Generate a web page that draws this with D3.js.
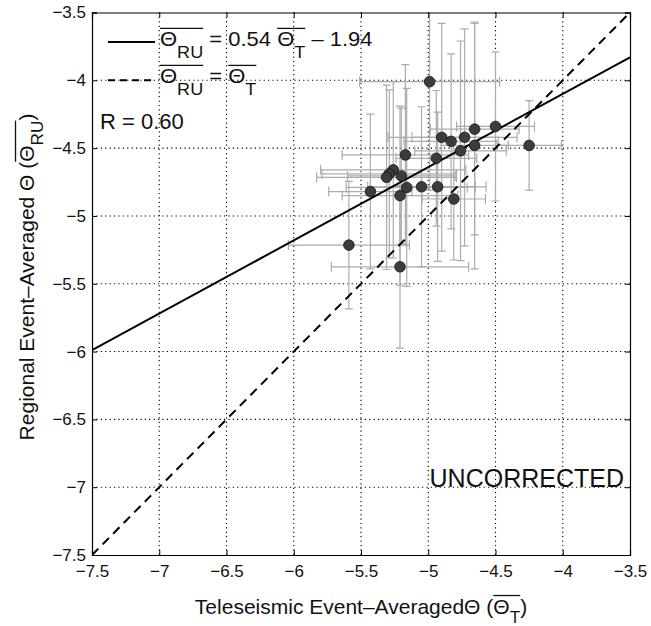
<!DOCTYPE html>
<html>
<head>
<meta charset="utf-8">
<script src="https://cdn.jsdelivr.net/npm/d3@7/dist/d3.min.js"></script>
<style>
  html, body { margin: 0; padding: 0; background: #fff; }
  svg text { font-family: "Liberation Sans", Arial, Helvetica, sans-serif; fill: #111; white-space: pre; }
</style>
</head>
<body>
<svg id="chart" width="651" height="626"></svg>
<script>
// Event-averaged Theta: teleseismic (x) vs regional (y), with 1-sigma error bars
const teleTheta = [-4.99, -4.90, -4.83, -4.73, -4.655, -4.50, -4.25, -4.655, -4.76, -4.94, -5.17, -5.26,
                   -5.29, -5.31, -5.20, -5.43, -5.16, -5.05, -4.93, -5.21, -4.81, -5.59, -5.21];
const regTheta  = [-4.01, -4.42, -4.45, -4.42, -4.36, -4.34, -4.48, -4.48, -4.52, -4.575, -4.55, -4.66,
                   -4.69, -4.715, -4.705, -4.82, -4.79, -4.785, -4.785, -4.85, -4.875, -5.215, -5.375];
const teleErr   = [0.52, 0.40, 0.35, 0.39, 0.33, 0.29, 0.24, 0.25, 0.34, 0.30, 0.47, 0.54,
                   0.50, 0.52, 0.40, 0.31, 0.45, 0.40, 0.36, 0.43, 0.235, 0.45, 0.51];
const regErr    = [0.80, 0.84, 0.645, 0.80, 0.78, 0.55, 0.33, 0.91, 0.81, 0.50, 0.665, 0.65,
                   0.62, 0.68, 0.50, 0.57, 0.73, 0.59, 0.55, 0.66, 0.45, 0.47, 0.60];

// least-squares fit reported in the legend
const fitSlope = 0.54;
const fitIntercept = -1.94;
const corrR = "0.60";

const axisDomain = [-7.5, -3.5];
const tickValues = [-7.5, -7, -6.5, -6, -5.5, -5, -4.5, -4, -3.5];
const tickLabels = ["\u22127.5", "\u22127", "\u22126.5", "\u22126", "\u22125.5", "\u22125", "\u22124.5", "\u22124", "\u22123.5"];

const svg = d3.select("#chart");
const plot = { left: 92, right: 630, top: 12.5, bottom: 555 };

const x = d3.scaleLinear().domain(axisDomain).range([plot.left, plot.right]);
const y = d3.scaleLinear().domain(axisDomain).range([plot.bottom, plot.top]);

svg.append("defs").append("clipPath").attr("id", "plotClip")
  .append("rect").attr("x", plot.left).attr("y", plot.top)
  .attr("width", plot.right - plot.left).attr("height", plot.bottom - plot.top);

// dotted grid
const grid = svg.append("g").attr("stroke", "#000").attr("stroke-width", 1.1)
  .attr("stroke-dasharray", "1.2,3.2");
tickValues.slice(1, -1).forEach(v => {
  grid.append("line").attr("x1", x(v)).attr("x2", x(v)).attr("y1", plot.top).attr("y2", plot.bottom);
  grid.append("line").attr("y1", y(v)).attr("y2", y(v)).attr("x1", plot.left).attr("x2", plot.right);
});

// error bars
const points = teleTheta.map((t, i) => ({ t, r: regTheta[i], et: teleErr[i], er: regErr[i] }));
const eb = svg.append("g").attr("clip-path", "url(#plotClip)")
  .attr("stroke", "#acacac").attr("stroke-width", 1.2).attr("fill", "none");
const capH = 4, capV = 5;
points.forEach(p => {
  const cx = x(p.t), cy = y(p.r);
  const y0 = y(p.r - p.er), y1 = y(p.r + p.er);
  const x0 = x(p.t - p.et), x1 = x(p.t + p.et);
  eb.append("path").attr("d",
    `M${cx},${y0}V${y1}M${cx - capH},${y0}H${cx + capH}M${cx - capH},${y1}H${cx + capH}` +
    `M${x0},${cy}H${x1}M${x0},${cy - capV}V${cy + capV}M${x1},${cy - capV}V${cy + capV}`);
});

// fit line and 1:1 line
const lines = svg.append("g").attr("clip-path", "url(#plotClip)").attr("fill", "none");
lines.append("line")
  .attr("x1", x(axisDomain[0])).attr("y1", y(fitSlope * axisDomain[0] + fitIntercept))
  .attr("x2", x(axisDomain[1])).attr("y2", y(fitSlope * axisDomain[1] + fitIntercept))
  .attr("stroke", "#000").attr("stroke-width", 2);
lines.append("line")
  .attr("x1", x(axisDomain[0])).attr("y1", y(axisDomain[0]))
  .attr("x2", x(axisDomain[1])).attr("y2", y(axisDomain[1]))
  .attr("stroke", "#000").attr("stroke-width", 2).attr("stroke-dasharray", "9,6");

// event markers
svg.append("g").selectAll("circle").data(points).join("circle")
  .attr("cx", d => x(d.t)).attr("cy", d => y(d.r)).attr("r", 5.3)
  .attr("fill", "#3c3c3c").attr("stroke", "#111").attr("stroke-width", 0.8);

// axes box with inward ticks on all four sides
const fmt = v => tickLabels[tickValues.indexOf(v)];
const axes = [
  { ax: d3.axisBottom(x), tr: `translate(0,${plot.bottom})`, lab: true, pad: 10 },
  { ax: d3.axisTop(x), tr: `translate(0,${plot.top})`, lab: false, pad: 0 },
  { ax: d3.axisLeft(y), tr: `translate(${plot.left},0)`, lab: true, pad: 6 },
  { ax: d3.axisRight(y), tr: `translate(${plot.right},0)`, lab: false, pad: 0 }
];
axes.forEach(a => {
  const g = svg.append("g").attr("transform", a.tr)
    .call(a.ax.tickValues(tickValues).tickSize(-5).tickPadding(a.pad)
      .tickFormat(a.lab ? fmt : () => ""));
  g.select(".domain").attr("stroke", "#000").attr("stroke-width", 1.2);
  g.selectAll(".tick line").attr("stroke", "#000").attr("stroke-width", 1);
  g.selectAll(".tick text").attr("font-size", 17).attr("fill", "#111")
    .style("font-family", '"Liberation Sans", Arial, sans-serif');
});

// text with subscripts and overbars
function richText(g, x0, y0, parts, size, subShift) {
  let cx = x0;
  parts.forEach(p => {
    const start = cx;
    if (p.t) {
      const t = g.append("text").attr("x", cx).attr("y", y0).attr("font-size", size).text(p.t);
      cx += t.node().getComputedTextLength();
    }
    if (p.sub) {
      const s = g.append("text").attr("x", cx).attr("y", y0 + size * subShift)
        .attr("font-size", size * 0.82).text(p.sub);
      cx += s.node().getComputedTextLength();
    }
    if (p.over) {
      g.append("line").attr("x1", start).attr("x2", cx)
        .attr("y1", y0 - size * 0.88).attr("y2", y0 - size * 0.88)
        .attr("stroke", "#111").attr("stroke-width", 1.3);
    }
  });
  return cx - x0;
}

// legend
const leg = svg.append("g");
leg.append("line").attr("x1", 108).attr("x2", 155).attr("y1", 42).attr("y2", 42)
  .attr("stroke", "#000").attr("stroke-width", 2);
leg.append("line").attr("x1", 108).attr("x2", 155).attr("y1", y(-4)).attr("y2", y(-4))
  .attr("stroke", "#000").attr("stroke-width", 2).attr("stroke-dasharray", "7,5");
const legRow1 = leg.append("g").attr("transform", "translate(160,46) scale(1.1,1)");
richText(legRow1, 0, 0, [
  { t: "\u0398", sub: "RU", over: true },
  { t: ` = ${fitSlope.toFixed(2)} ` },
  { t: "\u0398", sub: "T", over: true },
  { t: ` \u2013 ${Math.abs(fitIntercept).toFixed(2)}` }
], 20, 0.62);
const legRow2 = leg.append("g").attr("transform", "translate(160,83) scale(1.1,1)");
richText(legRow2, 0, 0, [
  { t: "\u0398", sub: "RU", over: true },
  { t: " = " },
  { t: "\u0398", sub: "T", over: true }
], 20, 0.62);
leg.append("text").attr("x", 100).attr("y", 129).attr("font-size", 22).text(`R = ${corrR}`);

// panel tag
svg.append("text").attr("x", 624).attr("y", 487).attr("text-anchor", "end")
  .attr("font-size", 25).text("UNCORRECTED");

// axis titles
const xt = svg.append("g");
const xInner = xt.append("g");
const xw = richText(xInner, 0, 0, [
  { t: "Teleseismic Event\u2013Averaged\u0398 (" },
  { t: "\u0398", sub: "T", over: true },
  { t: ")" }
], 21, 0.42);
xt.attr("transform", `translate(${(plot.left + plot.right) / 2 - xw / 2},614)`);

const yt = svg.append("g");
const yInner = yt.append("g");
const yw = richText(yInner, 0, 0, [
  { t: "Regional Event\u2013Averaged \u0398 (" },
  { t: "\u0398", sub: "RU", over: true },
  { t: ")" }
], 21, 0.42);
yt.attr("transform", `translate(34,${y(-5.45) + yw / 2}) rotate(-90)`);
</script>
</body>
</html>
